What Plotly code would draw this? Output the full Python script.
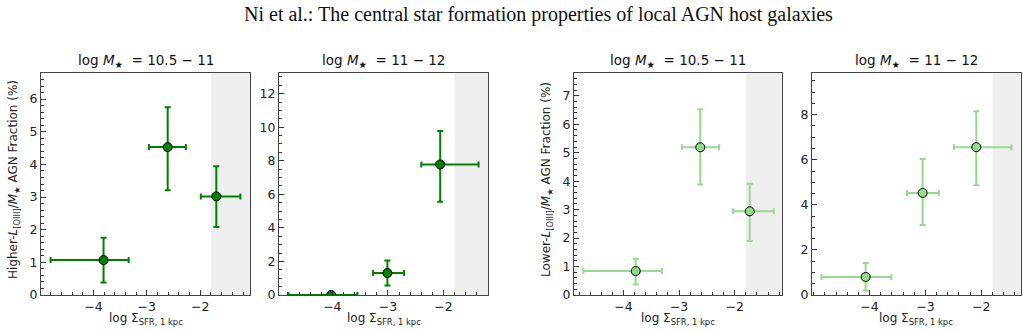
import numpy as np
import plotly.graph_objects as go

# ---------------- data ----------------
main_title = "Ni et al.: The central star formation properties of local AGN host galaxies"
panel_titles = ["log <i>M</i><sub>★</sub>  = 10.5 − 11", "log <i>M</i><sub>★</sub>  = 11 − 12",
                "log <i>M</i><sub>★</sub>  = 10.5 − 11", "log <i>M</i><sub>★</sub>  = 11 − 12"]
ylabels = ["Higher-<i>L</i><sub>[OIII]</sub>/<i>M</i><sub>★</sub> AGN Fraction (%)",
           "Lower-<i>L</i><sub>[OIII]</sub>/<i>M</i><sub>★</sub> AGN Fraction (%)"]
xlabel = "log Σ<sub>SFR, 1 kpc</sub>"

# Higher-L[OIII], logM 10.5-11
p1_x = [-3.81, -2.61, -1.70]
p1_xlo = [-4.80, -2.96, -1.99]
p1_xhi = [-3.34, -2.27, -1.25]
p1_y = [1.07, 4.53, 3.02]
p1_ylo = [0.38, 3.21, 2.08]
p1_yhi = [1.75, 5.75, 3.94]

# Higher-L[OIII], logM 11-12
p2_x = [-4.02, -3.01, -2.06]
p2_xlo = [-4.79, -3.27, -2.40]
p2_xhi = [-3.55, -2.71, -1.37]
p2_y = [0.0, 1.31, 7.78]
p2_ylo = [0.0, 0.56, 5.55]
p2_yhi = [0.0, 2.05, 9.77]

# Lower-L[OIII], logM 10.5-11
p3_x = [-3.78, -2.62, -1.73]
p3_xlo = [-4.72, -2.95, -2.03]
p3_xhi = [-3.31, -2.28, -1.30]
p3_y = [0.84, 5.19, 2.94]
p3_ylo = [0.37, 3.88, 1.90]
p3_yhi = [1.27, 6.53, 3.91]

# Lower-L[OIII], logM 11-12
p4_x = [-4.07, -3.05, -2.09]
p4_xlo = [-4.86, -3.33, -2.49]
p4_xhi = [-3.61, -2.76, -1.46]
p4_y = [0.80, 4.53, 6.56]
p4_ylo = [0.20, 3.11, 4.87]
p4_yhi = [1.42, 6.03, 8.15]

shade_start = -1.8

x_ticks = [-4, -3, -2]
x_ticktext = ["−4", "−3", "−2"]

# ---------------- style / layout ----------------
x_ranges = [[-4.98, -1.07], [-4.96, -1.20], [-4.89, -1.15], [-5.03, -1.29]]
y_ranges = [[0, 6.8], [0, 13.23], [0, 7.8], [0, 9.85]]
y_dticks = [1, 2, 1, 2]
y_minor = [0.2, 0.5, 0.2, 0.5]
W, H = 1028, 333
x_domains = [[41/W, 250/W], [279/W, 488/W], [574/W, 782/W], [812/W, 1021/W]]
y_domain = [1 - 295/H, 1 - 73/H]

DARK = "#008000"
LIGHT = "rgb(150,218,142)"
colors = [DARK, DARK, LIGHT, LIGHT]
FONT = "DejaVu Sans"
TICK_SIZE = 12.5

panels = [
    (p1_x, p1_xlo, p1_xhi, p1_y, p1_ylo, p1_yhi),
    (p2_x, p2_xlo, p2_xhi, p2_y, p2_ylo, p2_yhi),
    (p3_x, p3_xlo, p3_xhi, p3_y, p3_ylo, p3_yhi),
    (p4_x, p4_xlo, p4_xhi, p4_y, p4_ylo, p4_yhi),
]

fig = go.Figure()
layout = dict(
    width=W, height=H,
    margin=dict(l=0, r=0, t=0, b=0, pad=0),
    paper_bgcolor="white", plot_bgcolor="white",
    showlegend=False,
    font=dict(family=FONT, size=12, color="#222"),
    shapes=[], annotations=[],
)

for i, (x, xlo, xhi, y, ylo, yhi) in enumerate(panels):
    k = "" if i == 0 else str(i + 1)
    x = np.array(x); y = np.array(y)
    fig.add_trace(go.Scatter(
        x=x, y=y, mode="markers",
        xaxis="x" + k, yaxis="y" + k,
        marker=dict(size=9, color=colors[i], line=dict(color="black", width=1)),
        error_x=dict(type="data", symmetric=False,
                     array=np.array(xhi) - x, arrayminus=x - np.array(xlo),
                     color=colors[i], thickness=2, width=3),
        error_y=dict(type="data", symmetric=False,
                     array=np.array(yhi) - y, arrayminus=y - np.array(ylo),
                     color=colors[i], thickness=2, width=3),
        cliponaxis=True,
    ))
    layout["xaxis" + k] = dict(
        domain=x_domains[i], range=x_ranges[i], anchor="y" + k,
        tickvals=x_ticks, ticktext=x_ticktext, automargin=False,
        ticks="inside", ticklen=5, tickwidth=1, tickcolor="#333",
        minor=dict(dtick=0.2, ticks="inside", ticklen=2.5, tickwidth=1, tickcolor="#333"),
        showline=True, linecolor="#444", linewidth=1.3, mirror=True,
        showgrid=False, zeroline=False,
        tickfont=dict(family=FONT, size=TICK_SIZE, color="#222"),
    )
    layout["yaxis" + k] = dict(
        domain=y_domain, range=y_ranges[i], anchor="x" + k,
        dtick=y_dticks[i], tick0=0, automargin=False,
        ticks="inside", ticklen=5, tickwidth=1, tickcolor="#333",
        minor=dict(dtick=y_minor[i], ticks="inside", ticklen=2.5, tickwidth=1, tickcolor="#333"),
        showline=True, linecolor="#444", linewidth=1.3, mirror=True,
        showgrid=False, zeroline=False,
        tickfont=dict(family=FONT, size=TICK_SIZE, color="#222"),
    )
    layout["shapes"].append(dict(
        type="rect", xref="x" + k, yref="y" + k + " domain",
        x0=shade_start, x1=x_ranges[i][1], y0=0, y1=1,
        fillcolor="rgb(239,239,239)", line=dict(width=0), layer="below",
    ))
    xc = (x_domains[i][0] + x_domains[i][1]) / 2
    layout["annotations"].append(dict(
        text=panel_titles[i], x=xc, y=1 - 61/H, xref="paper", yref="paper",
        showarrow=False, xanchor="center", yanchor="middle",
        font=dict(family=FONT, size=13.5, color="#111"),
    ))
    layout["annotations"].append(dict(
        text=xlabel, x=xc, y=1 - 319/H, xref="paper", yref="paper",
        showarrow=False, xanchor="center", yanchor="middle",
        font=dict(family=FONT, size=12, color="#222"),
    ))

for j, (xpx, lab) in enumerate([(14, ylabels[0]), (547, ylabels[1])]):
    layout["annotations"].append(dict(
        text=lab, x=xpx/W, y=1 - 180/H, xref="paper", yref="paper",
        showarrow=False, xanchor="center", yanchor="middle", textangle=-90,
        font=dict(family=FONT, size=12, color="#222"),
    ))

layout["annotations"].append(dict(
    text=main_title, x=538/W, y=1 - 15/H, xref="paper", yref="paper",
    showarrow=False, xanchor="center", yanchor="middle",
    font=dict(family="Liberation Serif", size=20, color="#111"),
))

fig.update_layout(**layout)
fig.write_html("out.html")
